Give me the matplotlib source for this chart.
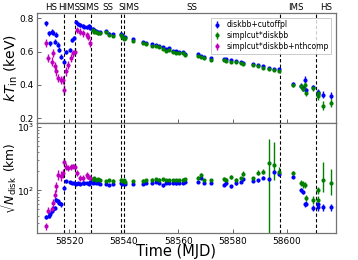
import numpy as np
import matplotlib
matplotlib.use("Agg")
import matplotlib.pyplot as plt
from matplotlib.transforms import blended_transform_factory

# ---------------- data ----------------
# diskbb+cutoffpl (blue)
t_b = [58511.3, 58512.5, 58512.8, 58513.4, 58514.0, 58514.6, 58515.2, 58515.9, 58516.2, 58516.7,
       58517.9, 58518.9, 58520.1, 58520.8, 58521.6, 58522.3, 58523.2, 58524.0, 58524.8, 58525.5,
       58526.3, 58527.0, 58527.6,
       58528.6, 58529.2, 58529.8, 58530.4, 58531.2, 58533.5, 58534.7, 58535.9, 58539.0, 58539.5,
       58540.2, 58540.6, 58543.3, 58546.9, 58548.2, 58550.3, 58551.9, 58553.1, 58554.3, 58555.5,
       58556.8, 58558.0, 58559.2, 58560.4, 58561.6, 58562.6, 58567.2, 58568.4, 58569.4, 58572.1,
       58577.0, 58577.6, 58579.4, 58581.3, 58583.0, 58583.8, 58587.4, 58589.2, 58591.1, 58593.5,
       58595.4, 58597.2, 58602.4, 58605.2, 58605.8, 58606.8, 58607.2, 58609.5, 58611.3, 58611.6,
       58613.4, 58616.2]
kT_b = [0.77, 0.71, 0.65, 0.72, 0.714, 0.66, 0.70, 0.64, 0.61, 0.57,
        0.54, 0.60, 0.61, 0.67, 0.68, 0.775, 0.765, 0.76, 0.755, 0.75,
        0.745, 0.755, 0.74,
        0.738, 0.728, 0.723, 0.718, 0.718, 0.723, 0.708, 0.703, 0.708, 0.698,
        0.683, 0.688, 0.673, 0.660, 0.653, 0.644, 0.642, 0.634, 0.626, 0.614,
        0.620, 0.604, 0.602, 0.600, 0.598, 0.586, 0.584, 0.575, 0.570, 0.560,
        0.556, 0.553, 0.548, 0.544, 0.536, 0.534, 0.524, 0.518, 0.510, 0.502,
        0.496, 0.492, 0.405, 0.395, 0.38, 0.43, 0.366, 0.385, 0.355, 0.345,
        0.34, 0.335]
kTe_b = [0.015, 0.015, 0.015, 0.015, 0.015, 0.015, 0.015, 0.015, 0.015, 0.015,
         0.015, 0.012, 0.012, 0.012, 0.012, 0.012, 0.010, 0.010, 0.010, 0.010,
         0.010, 0.010, 0.010,
         0.008, 0.008, 0.008, 0.008, 0.008, 0.008, 0.008, 0.008, 0.008, 0.008,
         0.008, 0.008, 0.008, 0.006, 0.006, 0.006, 0.006, 0.006, 0.006, 0.006,
         0.006, 0.006, 0.006, 0.006, 0.006, 0.006, 0.006, 0.006, 0.006, 0.006,
         0.006, 0.006, 0.006, 0.006, 0.006, 0.006, 0.006, 0.006, 0.006, 0.006,
         0.006, 0.006, 0.012, 0.015, 0.015, 0.02, 0.015, 0.015, 0.02, 0.02,
         0.02, 0.022]
N_b = [38, 40, 42, 47, 50, 53, 71, 67, 63, 60,
       109, 139, 134, 132, 130, 128, 130, 128, 131, 130,
       132, 128, 134,
       132, 138, 130, 133, 128, 126, 123, 128, 132, 126,
       130, 125, 127, 128, 130, 133, 134, 131, 120, 130,
       130, 131, 129, 131, 133, 135, 134, 155, 130, 131,
       123, 130, 116, 130, 138, 150, 140, 145, 160, 151,
       199, 180, 166, 103, 95, 60, 62, 53, 54, 60,
       54, 54]
Ne_b = [3, 3, 3, 3, 3, 4, 6, 6, 5, 5,
        8, 8, 6, 6, 6, 6, 6, 6, 6, 6,
        6, 6, 6,
        5, 5, 5, 5, 5, 5, 5, 5, 5, 5,
        5, 5, 5, 5, 5, 5, 5, 5, 5, 5,
        5, 5, 5, 5, 5, 5, 5, 6, 5, 5,
        6, 6, 6, 6, 6, 8, 6, 7, 8, 8,
        12, 10, 8, 8, 8, 6, 6, 5, 6, 6,
        6, 6]

# simplcut*diskbb (green)
t_g = [58528.6, 58529.2, 58529.8, 58530.4, 58531.2, 58533.5, 58534.7, 58535.9, 58539.0, 58539.5,
       58540.2, 58540.6, 58543.3, 58546.9, 58548.2, 58550.3, 58551.9, 58553.1, 58554.3, 58555.5,
       58556.8, 58558.0, 58559.2, 58560.4, 58561.6, 58562.6, 58567.2, 58568.4, 58569.4, 58572.1,
       58577.0, 58577.6, 58579.4, 58581.3, 58583.0, 58583.8, 58587.4, 58589.2, 58591.1, 58593.5,
       58595.4, 58597.2, 58602.4, 58605.2, 58605.8, 58606.8, 58607.2, 58609.5, 58611.3, 58611.6,
       58613.4, 58616.2]
kT_g = [0.73, 0.72, 0.715, 0.71, 0.71, 0.715, 0.70, 0.695, 0.70, 0.69,
        0.675, 0.68, 0.665, 0.652, 0.645, 0.636, 0.634, 0.626, 0.618, 0.606,
        0.612, 0.596, 0.594, 0.592, 0.59, 0.578, 0.576, 0.567, 0.562, 0.552,
        0.548, 0.545, 0.54, 0.536, 0.528, 0.526, 0.516, 0.51, 0.502, 0.494,
        0.488, 0.484, 0.40, 0.39, 0.375, 0.40, 0.35, 0.38, 0.35, 0.33,
        0.275, 0.29]
kTe_g = [0.008, 0.008, 0.008, 0.008, 0.008, 0.008, 0.008, 0.008, 0.008, 0.008,
         0.008, 0.008, 0.008, 0.006, 0.006, 0.006, 0.006, 0.006, 0.006, 0.006,
         0.006, 0.006, 0.006, 0.006, 0.006, 0.006, 0.006, 0.006, 0.006, 0.006,
         0.006, 0.006, 0.006, 0.006, 0.006, 0.006, 0.006, 0.006, 0.006, 0.006,
         0.006, 0.006, 0.012, 0.015, 0.015, 0.02, 0.015, 0.015, 0.02, 0.02,
         0.025, 0.025]
N_g = [150, 155, 148, 150, 145, 140, 145, 142, 148, 140,
       145, 138, 140, 142, 145, 148, 150, 148, 150, 146,
       145, 146, 144, 146, 148, 150, 157, 177, 144, 145,
       151, 148, 166, 145, 155, 185, 155, 192, 199, 270,
       254, 199, 188, 131, 125, 123, 76, 71, 100, 71,
       144, 131]
Ne_g_lo = [8, 8, 8, 8, 7, 7, 7, 7, 8, 7,
           7, 7, 7, 7, 7, 7, 7, 7, 7, 7,
           7, 7, 7, 7, 7, 7, 10, 12, 8, 8,
           10, 10, 12, 10, 10, 15, 10, 18, 20, 380,
           110, 30, 15, 15, 15, 15, 8, 10, 12, 10,
           50, 45]
Ne_g_hi = [8, 8, 8, 8, 7, 7, 7, 7, 8, 7,
           7, 7, 7, 7, 7, 7, 7, 7, 7, 7,
           7, 7, 7, 7, 7, 7, 10, 12, 8, 8,
           10, 10, 12, 10, 10, 15, 10, 18, 20, 380,
           330, 40, 15, 15, 15, 15, 8, 10, 12, 10,
           140, 90]

# simplcut*diskbb+nthcomp (magenta)
t_m = [58511.3, 58512.2, 58513.4, 58514.0, 58514.6, 58515.2, 58515.8, 58516.7, 58517.7, 58517.9,
       58518.6, 58519.5, 58520.7, 58521.4, 58522.0, 58522.6, 58523.8, 58525.0, 58526.3, 58526.9,
       58527.5]
kT_m = [0.65, 0.56, 0.54, 0.59, 0.51, 0.48, 0.44, 0.43, 0.43, 0.37,
        0.48, 0.52, 0.56, 0.59, 0.60, 0.73, 0.72, 0.71, 0.70, 0.69,
        0.65]
kTe_m = [0.025, 0.025, 0.025, 0.025, 0.025, 0.025, 0.025, 0.025, 0.025, 0.03,
         0.025, 0.025, 0.025, 0.02, 0.02, 0.02, 0.02, 0.02, 0.02, 0.02,
         0.025]
N_m = [27, 48, 50, 63, 86, 116, 177, 170, 190, 286,
       239, 225, 239, 240, 235, 187, 158, 158, 178, 165,
       160]
Ne_m = [3, 6, 6, 10, 15, 20, 30, 30, 30, 40,
        30, 25, 25, 25, 25, 20, 15, 15, 18, 15,
        15]

# state transitions and labels
t_trans = [58517.8, 58521.9, 58528.0, 58539.0, 58540.0, 58597.6, 58610.7]
state_labels = ["HS", "HIMS", "SIMS", "SS", "SIMS", "SS", "IMS", "HS"]
state_pos = [58513.4, 58519.9, 58527.3, 58534.0, 58541.8, 58565.0, 58603.3, 58614.4]

# ---------------- plot ----------------
plt.rcParams['font.family'] = ['DejaVu Sans']
fig = plt.figure(figsize=(3.58, 2.60), dpi=100)
ax1 = fig.add_axes([0.103, 0.528, 0.835, 0.421])
ax2 = fig.add_axes([0.103, 0.103, 0.835, 0.425], sharex=ax1)

ms = 3.0
ekw = dict(fmt='o', ms=ms, elinewidth=1.0, capsize=0, mew=0)
ax1.errorbar(t_b, kT_b, yerr=kTe_b, color='b', label='diskbb+cutoffpl', **ekw)
ax1.errorbar(t_g, kT_g, yerr=kTe_g, color='g', label='simplcut*diskbb', **ekw)
ax1.errorbar(t_m, kT_m, yerr=kTe_m, color='m', label='simplcut*diskbb+nthcomp', **ekw)

ax2.errorbar(t_b, N_b, yerr=Ne_b, color='b', **ekw)
ax2.errorbar(t_g, N_g, yerr=[Ne_g_lo, Ne_g_hi], color='g', **ekw)
ax2.errorbar(t_m, N_m, yerr=Ne_m, color='m', **ekw)

for ax in (ax1, ax2):
    for t in t_trans:
        ax.axvline(t, color='k', ls='--', lw=0.8, dashes=(3, 2))
    ax.tick_params(direction='in', labelsize=6.5, length=3, width=0.6, color='0.3', pad=2.5)
    ax.tick_params(which='minor', direction='in', length=1.5, width=0.5, color='0.3')
    for s in ax.spines.values():
        s.set_color('0.45')
        s.set_linewidth(0.9)
ax2.tick_params(axis='y', pad=1.8)

ax1.set_xlim(58508, 58618)
ax1.set_ylim(0.172, 0.83)
ax1.set_yticks([0.2, 0.4, 0.6, 0.8])
ax1.tick_params(labelbottom=False)
ax1.set_ylabel(r'$kT_{\rm in}$ (keV)', fontsize=10)
ax1.yaxis.set_label_coords(-0.058, 0.5)

ax2.set_yscale('log')
ax2.set_ylim(21, 1180)
ax2.set_xticks([58520, 58540, 58560, 58580, 58600])
ax2.set_ylabel(r'$\sqrt{N_{\rm disk}}$ (km)', fontsize=8.8)
ax2.yaxis.set_label_coords(-0.061, 0.5)
ax2.set_xlabel('Time (MJD)', fontsize=10.5)
ax2.xaxis.set_label_coords(0.465, -0.10)

trans = blended_transform_factory(ax1.transData, ax1.transAxes)
for lab, pos in zip(state_labels, state_pos):
    ax1.text(pos, 1.01, lab, transform=trans, ha='center', va='bottom', fontsize=6.2)

leg = ax1.legend(loc='upper right', fontsize=5.5, frameon=True, handlelength=0.9,
                 handletextpad=0.7, borderpad=0.35, labelspacing=0.25, borderaxespad=0.2,
                 bbox_to_anchor=(0.99, 0.975), fancybox=False)
leg.get_frame().set_edgecolor('0.7')
leg.get_frame().set_linewidth(0.6)

fig.savefig('out.png', dpi=100)
